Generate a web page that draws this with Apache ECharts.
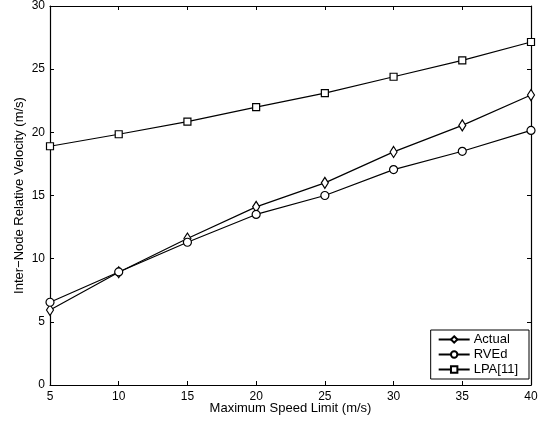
<!DOCTYPE html>
<html><head><meta charset="utf-8">
<script src="https://cdn.jsdelivr.net/npm/echarts@6/dist/echarts.min.js"></script>
<style>html,body{margin:0;padding:0;background:#fff}#c{width:549px;height:424px}</style>
</head><body><div id="c"></div>
<script>
const categories = [5, 10, 15, 20, 25, 30, 35, 40];
const actual = [5.94, 8.92, 11.6, 14.1, 16.0, 18.45, 20.55, 22.95];
const rved = [6.55, 8.95, 11.3, 13.5, 15.0, 17.05, 18.5, 20.15];
const lpa = [18.9, 19.85, 20.85, 22.0, 23.1, 24.4, 25.7, 27.15];
const xTicks = [5, 10, 15, 20, 25, 30, 35, 40];
const yTicks = [0, 5, 10, 15, 20, 25, 30];

const font = 'Liberation Sans, Arial, Helvetica, sans-serif';
const chart = echarts.init(document.getElementById('c'), null, {renderer: 'canvas'});
function mk(name, data, symbol, size) {
  return {
    name, type: 'line', data: categories.map((x, i) => [x, data[i]]),
    symbol, symbolSize: size, showSymbol: true,
    lineStyle: {color: '#000', width: 1.2},
    itemStyle: {color: '#fff', borderColor: '#000', borderWidth: 1.2},
    emphasis: {disabled: true}, animation: false
  };
}
const axisCommon = {
  axisLine: {show: true, onZero: false, lineStyle: {color: '#000', width: 1.2}},
  axisTick: {show: true, inside: true, length: 4, lineStyle: {color: '#000'}},
  splitLine: {show: false}
};
chart.setOption({
  backgroundColor: '#fff',
  animation: false,
  grid: {left: 50, right: 18, top: 6, bottom: 39},
  xAxis: [
    Object.assign({type: 'value', min: xTicks[0], max: xTicks[xTicks.length - 1], interval: 5, position: 'bottom',
      name: 'Maximum Speed Limit (m/s)', nameLocation: 'middle', nameGap: 17, nameMoveOverlap: false,
      nameTextStyle: {fontFamily: font, fontSize: 13, color: '#000'},
      axisLabel: {fontFamily: font, fontSize: 12, color: '#000', margin: 6}}, axisCommon),
    Object.assign({type: 'value', min: xTicks[0], max: xTicks[xTicks.length - 1], interval: 5, position: 'top',
      axisLabel: {show: false}}, axisCommon)
  ],
  yAxis: [
    Object.assign({type: 'value', min: yTicks[0], max: yTicks[yTicks.length - 1], interval: 5, position: 'left',
      name: 'Inter\u2212Node Relative Velocity (m/s)', nameLocation: 'middle', nameGap: 24, nameMoveOverlap: false,
      nameTextStyle: {fontFamily: font, fontSize: 13, color: '#000'},
      axisLabel: {fontFamily: font, fontSize: 12, color: '#000', margin: 5}}, axisCommon),
    Object.assign({type: 'value', min: yTicks[0], max: yTicks[yTicks.length - 1], interval: 5, position: 'right',
      axisLabel: {show: false}}, axisCommon)
  ],
  legend: {
    orient: 'vertical', right: 20, bottom: 45,
    data: ['Actual', 'RVEd', 'LPA[11]'],
    borderColor: '#000', borderWidth: 1, backgroundColor: '#fff',
    padding: [3, 11, 3, 7], itemGap: 2, itemWidth: 31, itemHeight: 8,
    textStyle: {fontFamily: font, fontSize: 13, color: '#000', padding: [0, 0, 0, -1]}
  },
  series: [
    mk('Actual', actual, 'diamond', [7, 11]),
    mk('RVEd', rved, 'circle', 8),
    mk('LPA[11]', lpa, 'rect', 7)
  ]
});
</script></body></html>
